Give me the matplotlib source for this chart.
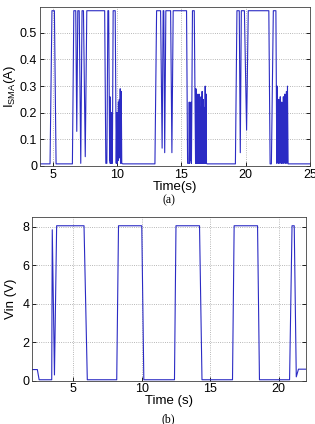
import numpy as np
import matplotlib.pyplot as plt

plt.rcParams['font.family'] = ['Liberation Sans', 'DejaVu Sans']
plt.rcParams['mathtext.fontset'] = 'custom'
plt.rcParams['mathtext.rm'] = 'Liberation Sans'

# (a) SMA current, breakpoints, one list pair per burst
t_a1 = [4.0, 4.78, 4.93, 5.12, 5.25]
i_a1 = [0.008, 0.008, 0.583, 0.583, 0.008]

t_a2 = [6.52, 6.63, 6.78, 6.86, 6.94, 7.05, 7.17, 7.27, 7.38, 7.52, 7.64,
        9.03, 9.12, 9.2, 9.28, 9.34, 9.42, 9.44, 9.46, 9.48, 9.5, 9.52, 9.54,
        9.56, 9.58, 9.6, 9.62, 9.64,
        9.69, 9.76, 9.85, 9.93, 9.97, 10.0, 10.04, 10.07, 10.1, 10.13, 10.17, 10.2,
        10.24, 10.28, 10.32, 10.36, 10.45]
i_a2 = [0.008, 0.583, 0.583, 0.13, 0.583, 0.583, 0.01, 0.583, 0.583, 0.035, 0.583,
        0.583, 0.01, 0.01, 0.583, 0.583, 0.02, 0.26, 0.01, 0.21, 0.02, 0.19, 0.01,
        0.2, 0.02, 0.17, 0.01, 0.12,
        0.583, 0.583, 0.583, 0.01, 0.2, 0.01, 0.2, 0.02, 0.24, 0.05, 0.25, 0.03,
        0.29, 0.01, 0.28, 0.01, 0.008]

t_a3 = [12.94, 13.07, 13.38, 13.5, 13.58, 13.63, 13.7, 13.79, 14.16, 14.26, 14.36,
        15.4, 15.48, 15.58, 15.61, 15.64, 15.68, 15.71, 15.75, 15.78, 15.86, 16.0, 16.1,
        16.13, 16.15, 16.17, 16.19, 16.21, 16.23, 16.25, 16.27, 16.29, 16.31, 16.33,
        16.35, 16.37, 16.39, 16.41, 16.43, 16.45, 16.47, 16.49, 16.51, 16.53, 16.55,
        16.57, 16.59, 16.61, 16.63, 16.65, 16.67, 16.69, 16.71, 16.73, 16.75, 16.77,
        16.79, 16.81, 16.83, 16.85, 16.87, 16.89, 16.91, 16.93, 16.95, 17.0]
i_a3 = [0.008, 0.583, 0.583, 0.067, 0.583, 0.583, 0.05, 0.583, 0.583, 0.05, 0.583,
        0.583, 0.01, 0.01, 0.24, 0.01, 0.23, 0.02, 0.24, 0.01, 0.583, 0.583, 0.01,
        0.29, 0.01, 0.15, 0.02, 0.27, 0.01, 0.12, 0.01, 0.25, 0.02, 0.14,
        0.01, 0.27, 0.01, 0.11, 0.02, 0.22, 0.01, 0.13, 0.02, 0.26, 0.01,
        0.12, 0.01, 0.28, 0.02, 0.1, 0.01, 0.25, 0.01, 0.14, 0.02, 0.22,
        0.01, 0.12, 0.01, 0.3, 0.02, 0.13, 0.01, 0.27, 0.01, 0.008]

t_a4 = [19.2, 19.32, 19.5, 19.58, 19.66, 19.9, 20.07, 20.2, 20.3, 21.8, 21.9,
        22.0, 22.15, 22.35, 22.42, 22.45, 22.48, 22.51, 22.54, 22.57, 22.6, 22.63,
        22.66, 22.69, 22.72, 22.75, 22.78, 22.81, 22.84, 22.87, 22.9, 22.93, 22.96,
        22.99, 23.02, 23.05, 23.08, 23.11, 23.14, 23.17, 23.2, 23.25, 23.3, 25.0]
i_a4 = [0.008, 0.583, 0.583, 0.05, 0.583, 0.583, 0.135, 0.583, 0.583, 0.583, 0.008,
        0.008, 0.583, 0.583, 0.01, 0.3, 0.02, 0.13, 0.01, 0.25, 0.02, 0.12,
        0.01, 0.26, 0.02, 0.14, 0.01, 0.24, 0.01, 0.11, 0.02, 0.26, 0.01,
        0.13, 0.02, 0.27, 0.01, 0.12, 0.02, 0.28, 0.01, 0.3, 0.008, 0.008]

t_a = t_a1 + t_a2 + t_a3 + t_a4
i_a = i_a1 + i_a2 + i_a3 + i_a4

# (b) input voltage
t_b = [2.0, 2.37, 2.5, 3.42, 3.46, 3.62, 3.78, 5.78, 6.02,
       8.17, 8.3, 10.0, 10.15, 12.39, 12.5, 14.22, 14.4,
       16.63, 16.75, 18.46, 18.6, 20.8, 20.98, 21.14, 21.29, 21.45, 22.0]
v_b = [0.58, 0.58, 0.05, 0.05, 7.85, 0.3, 8.06, 8.06, 0.05,
       0.05, 8.06, 8.06, 0.05, 0.05, 8.06, 8.06, 0.05,
       0.05, 8.06, 8.06, 0.05, 0.05, 8.06, 8.06, 0.2, 0.6, 0.6]

line_c = '#2b2bc4'

fig = plt.figure(figsize=(3.15, 4.24), dpi=100)
ax1 = fig.add_axes([0.127, 0.6085, 0.857, 0.375])
ax2 = fig.add_axes([0.1025, 0.1021, 0.8689, 0.3854])

ax1.plot(t_a, i_a, color=line_c, lw=0.8)
ax1.set_xlim(4, 25)
ax1.set_ylim(0, 0.597)
ax1.set_xticks([5, 10, 15, 20, 25])
ax1.set_yticks([0, 0.1, 0.2, 0.3, 0.4, 0.5])
ax1.set_yticklabels(['0', '0.1', '0.2', '0.3', '0.4', '0.5'])
ax1.set_xlabel('Time(s)', fontsize=9.5, labelpad=0)
ax1.set_ylabel(r'I$_{\mathrm{SMA}}$(A)', fontsize=9.5, labelpad=1)

ax2.plot(t_b, v_b, color=line_c, lw=0.8)
ax2.set_xlim(2, 22)
ax2.set_ylim(0, 8.5)
ax2.set_xticks([5, 10, 15, 20])
ax2.set_yticks([0, 2, 4, 6, 8])
ax2.set_xlabel('Time (s)', fontsize=9.5, labelpad=0)
ax2.set_ylabel('Vin (V)', fontsize=9.5, labelpad=4)

for ax in (ax1, ax2):
    ax.grid(True, linestyle=':', color='#a0a0a0', lw=0.6)
    ax.tick_params(direction='in', length=3, width=0.6, labelsize=9,
                   top=False, right=True, pad=2)
    for s in ax.spines.values():
        s.set_linewidth(0.6)
        s.set_color('#404040')

fig.text(0.535, 0.527, '(a)', fontsize=8.5, family='Liberation Serif', ha='center', va='center')
fig.text(0.533, 0.012, '(b)', fontsize=8.5, family='Liberation Serif', ha='center', va='center')

fig.savefig('out.png', dpi=100)
